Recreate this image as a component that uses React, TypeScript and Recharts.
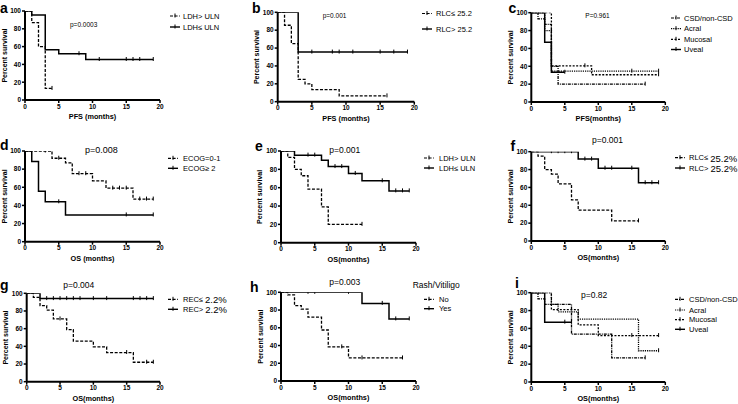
import React from 'react';
import { LineChart, Line, XAxis, YAxis } from 'recharts';

const FONT = '"Liberation Sans", Arial, Helvetica, sans-serif';

const xTicks = [0, 5, 10, 15, 20];
const yTicks = [0, 20, 40, 60, 80, 100];

// ---- data: [time, survival %] steps and censored times ----
// a: PFS by LDH
const aHighSteps = [[0, 100], [1, 87], [2, 60], [3, 13]];
const aHighCens = [4];
const aLowSteps = [[0, 100], [1, 95.5], [3, 56.5], [5, 52], [9, 45.5]];
const aLowCens = [8, 11, 15, 16, 17, 19];
const aNames = ['LDH> ULN', 'LDH\u2264 ULN'];

// b: PFS by RLC
const bLowSteps = [[0, 100], [1, 85.5], [2, 65], [3, 25], [4, 20], [5, 13.5], [9, 6.5]];
const bLowCens = [16];
const bHighSteps = [[0, 100], [3, 55.5]];
const bHighCens = [5, 8, 9, 11, 15, 17, 19];
const bNames = ['RLC\u2264 25.2', 'RLC> 25.2'];

// c: PFS by subtype
const cCsdSteps = [[0, 100], [1, 93], [2, 87], [3, 40], [4, 20]];
const cCsdCens = [17];
const cAcralSteps = [[0, 100], [2, 80], [3, 34.5]];
const cAcralCens = [15, 19];
const cMucSteps = [[0, 100], [3, 40.5], [9, 30.5]];
const cMucCens = [8, 19];
const cUvSteps = [[0, 100], [2, 67], [3, 33.3]];
const cUvCens = [5];
const subtypeNames = ['CSD/non-CSD', 'Acral', 'Mucosal', 'Uveal'];

// d: OS by ECOG
const dLowSteps = [[0, 100], [4, 92], [6, 87], [7, 75], [10, 67], [12, 59], [16, 47]];
const dLowCens = [3, 5, 8, 9, 13, 14, 15, 17, 18, 19];
const dHighSteps = [[0, 100], [1, 88.5], [2, 55.5], [3, 44], [6, 29.5]];
const dHighCens = [5, 15, 19];
const dNames = ['ECOG=0-1', 'ECOG\u2265 2'];

// e: OS by LDH
const eHighSteps = [[0, 100], [1, 93], [2, 80], [3, 73], [4, 58.5], [6, 39], [7, 20]];
const eHighCens = [12];
const eLowSteps = [[0, 100], [2, 95.5], [6, 90], [7, 83], [10, 75.5], [12, 67.5], [16, 56.5]];
const eLowCens = [4, 5, 8, 9, 11, 15, 17, 18, 19];
const eNames = ['LDH> ULN', 'LDH\u2264 ULN'];

// f: OS by RLC
const fLowSteps = [[0, 100], [1, 95], [2, 80], [3, 75], [4, 64], [6, 46], [7, 34.5], [12, 22.5]];
const fLowCens = [16];
const fHighSteps = [[0, 100], [7, 91.7], [10, 81.5], [16, 65.2]];
const fHighCens = [3, 4, 5, 6, 8, 9, 11, 12, 15, 17, 18, 19];
const fNames = ['RLC\u2264 25.2%', 'RLC> 25.2%'];

// g: OS by REC
const gLowSteps = [[0, 100], [1, 95.5], [2, 86], [3, 81], [4, 71], [6, 59], [7, 46], [10, 39.5], [12, 33], [16, 22]];
const gLowCens = [5, 15, 18, 19];
const gHighSteps = [[0, 100], [2, 94]];
const gHighCens = [3, 4, 5, 6, 7, 8, 10, 12, 16, 17, 18, 19];
const gNames = ['REC\u2264 2.2%', 'REC> 2.2%'];

// h: OS by rash/vitiligo
const hNoSteps = [[0, 100], [1, 97], [2, 85], [3, 81], [4, 72], [6, 57.5], [7, 38.5], [10, 26]];
const hNoCens = [9, 12, 18];
const hYesSteps = [[0, 100], [12, 87.5], [16, 70]];
const hYesCens = [4, 5, 10, 15, 17, 19];
const hNames = ['No', 'Yes'];

// i: OS by subtype
const iCsdSteps = [[0, 100], [1, 93], [2, 87], [6, 53.5], [12, 27]];
const iCsdCens = [17];
const iAcralSteps = [[0, 100], [3, 87], [4, 78.5], [7, 70.5], [16, 35]];
const iAcralCens = [19];
const iMucSteps = [[0, 100], [3, 81], [7, 64], [10, 52]];
const iMucCens = [15, 19];
const iUvSteps = [[0, 100], [2, 67]];
const iUvCens = [5, 6];

type Pt = { t: number; s: number; c: number };

function km(steps: number[][], cens: number[]): Pt[] {
  const pts: Pt[] = steps.map(([t, s]) => ({ t, s, c: 0 }));
  cens.forEach((t) => {
    let s = 100;
    steps.forEach(([tt, ss]) => {
      if (tt <= t) s = ss;
    });
    pts.push({ t, s, c: 1 });
  });
  return pts.sort((a, b) => a.t - b.t || a.c - b.c);
}

const DASH = '3 1.6';
const CSD_DASH = '3 1 1 1';
const ACRAL_DASH = '1.2 1';
const MUC_DASH = '2 1.5';

type Series = { data: Pt[]; name: string; dash?: string };

type Panel = {
  id: string;
  x: number;
  y: number;
  h: number;
  L: number;
  R: number;
  T: number;
  B: number;
  xTitle: string;
  p: string;
  px: number;
  py: number;
  pf: number;
  lx: number;
  ly: number;
  ylx: number;
  sx: number;
  tx: number;
  rows: number[];
  legTitle?: string;
  bigNum?: boolean;
  series: Series[];
};

const panels: Panel[] = [
  {
    id: 'a', x: 0, y: 0, h: 135, L: 25, R: 160, T: 11, B: 100,
    xTitle: 'PFS (months)', p: 'p=0.0003', px: 70, py: 24, pf: 6.5,
    lx: 0, ly: 13, ylx: 4.5, sx: 170, tx: 183, rows: [16, 27],
    series: [
      { data: km(aHighSteps, aHighCens), name: aNames[0], dash: DASH },
      { data: km(aLowSteps, aLowCens), name: aNames[1] },
    ],
  },
  {
    id: 'b', x: 246, y: 0, h: 135, L: 277.7, R: 414.3, T: 12.3, B: 101.7,
    xTitle: 'PFS (months)', p: 'p=0.001', px: 322.7, py: 15, pf: 6.5,
    lx: 252, ly: 13, ylx: 256.5, sx: 422, tx: 436, rows: [13.5, 29],
    series: [
      { data: km(bLowSteps, bLowCens), name: bNames[0], dash: DASH },
      { data: km(bHighSteps, bHighCens), name: bNames[1] },
    ],
  },
  {
    id: 'c', x: 492, y: 0, h: 135, L: 531.3, R: 665.3, T: 12.7, B: 102,
    xTitle: 'PFS(months)', p: 'P=0.961', px: 585.3, py: 15, pf: 6.5,
    lx: 508.5, ly: 13, ylx: 510.3, sx: 671, tx: 684, rows: [18, 28.7, 39.3, 49.5],
    series: [
      { data: km(cCsdSteps, cCsdCens), name: subtypeNames[0], dash: CSD_DASH },
      { data: km(cAcralSteps, cAcralCens), name: subtypeNames[1], dash: ACRAL_DASH },
      { data: km(cMucSteps, cMucCens), name: subtypeNames[2], dash: MUC_DASH },
      { data: km(cUvSteps, cUvCens), name: subtypeNames[3] },
    ],
  },
  {
    id: 'd', x: 0, y: 135, h: 135, L: 25, R: 160, T: 151, B: 241.7,
    xTitle: 'OS (months)', p: 'p=0.008', px: 85, py: 150, pf: 9,
    lx: 0, ly: 150, ylx: 4, sx: 168, tx: 183, rows: [158.3, 168.3],
    series: [
      { data: km(dLowSteps, dLowCens), name: dNames[0], dash: DASH },
      { data: km(dHighSteps, dHighCens), name: dNames[1] },
    ],
  },
  {
    id: 'e', x: 246, y: 135, h: 135, L: 281, R: 416, T: 151, B: 242.7,
    xTitle: 'OS(months)', p: 'p=0.001', px: 329.3, py: 150, pf: 8.5,
    lx: 255, ly: 151, ylx: 259.3, sx: 424, tx: 439, rows: [158, 168],
    series: [
      { data: km(eHighSteps, eHighCens), name: eNames[0], dash: DASH },
      { data: km(eLowSteps, eLowCens), name: eNames[1] },
    ],
  },
  {
    id: 'f', x: 492, y: 135, h: 135, L: 531.3, R: 665.3, T: 151.7, B: 241,
    xTitle: 'OS(months)', p: 'p=0.001', px: 592, py: 140, pf: 8.5,
    lx: 510.5, ly: 151, ylx: 510.3, sx: 675, tx: 689, rows: [157.7, 168], bigNum: true,
    series: [
      { data: km(fLowSteps, fLowCens), name: fNames[0], dash: DASH },
      { data: km(fHighSteps, fHighCens), name: fNames[1] },
    ],
  },
  {
    id: 'g', x: 0, y: 270, h: 134, L: 26.7, R: 160, T: 293.3, B: 381.7,
    xTitle: 'OS(months)', p: 'p=0.004', px: 63.3, py: 285, pf: 8.5,
    lx: 0, ly: 289.5, ylx: 5, sx: 168, tx: 183, rows: [299.3, 309.3], bigNum: true,
    series: [
      { data: km(gLowSteps, gLowCens), name: gNames[0], dash: DASH },
      { data: km(gHighSteps, gHighCens), name: gNames[1] },
    ],
  },
  {
    id: 'h', x: 246, y: 270, h: 134, L: 281, R: 416, T: 292.3, B: 381,
    xTitle: 'OS(months)', p: 'p=0.003', px: 329.3, py: 281.7, pf: 8.5,
    lx: 250, ly: 292, ylx: 260, sx: 424, tx: 439, rows: [299.3, 308.7], legTitle: 'Rash/Vitiligo',
    series: [
      { data: km(hNoSteps, hNoCens), name: hNames[0], dash: DASH },
      { data: km(hYesSteps, hYesCens), name: hNames[1] },
    ],
  },
  {
    id: 'i', x: 492, y: 270, h: 134, L: 531.3, R: 665.3, T: 292.7, B: 382,
    xTitle: 'OS(months)', p: 'p=0.82', px: 581, py: 295, pf: 8.5,
    lx: 515, ly: 287.5, ylx: 510.3, sx: 675, tx: 689, rows: [299.3, 310, 319.7, 329.3],
    series: [
      { data: km(iCsdSteps, iCsdCens), name: subtypeNames[0], dash: CSD_DASH },
      { data: km(iAcralSteps, iAcralCens), name: subtypeNames[1], dash: ACRAL_DASH },
      { data: km(iMucSteps, iMucCens), name: subtypeNames[2], dash: MUC_DASH },
      { data: km(iUvSteps, iUvCens), name: subtypeNames[3] },
    ],
  },
];

const XH = 20;
const W = 246;

const censorDot = (props: any) => {
  const { cx, cy, payload, index } = props;
  if (!payload || !payload.c || cx == null || cy == null) return <g key={`n${index}`} />;
  return (
    <line key={`c${index}`} x1={cx} x2={cx} y1={cy - 2.5} y2={cy + 1.5} stroke="#000" strokeWidth={1} />
  );
};

const tickStyle = { fontSize: 6.5, fontWeight: 700, fill: '#000', fontFamily: FONT };

function PanelChart({ p }: { p: Panel }) {
  const margin = {
    top: p.T - p.y,
    right: p.x + W - p.R,
    bottom: p.y + p.h - p.B - XH,
    left: 0,
  };
  return (
    <div style={{ position: 'absolute', left: p.x, top: p.y, width: W, height: p.h }}>
      <LineChart width={W} height={p.h} margin={margin}>
        <XAxis
          type="number"
          dataKey="t"
          domain={[0, 20]}
          ticks={xTicks}
          allowDataOverflow
          height={XH}
          tick={tickStyle}
          tickSize={3}
          tickMargin={1}
          tickLine={{ stroke: '#000', strokeWidth: 1.5 }}
          axisLine={{ stroke: '#000', strokeWidth: 2 }}
          interval={0}
        />
        <YAxis
          type="number"
          domain={[0, 100]}
          ticks={yTicks}
          allowDataOverflow
          width={p.L - p.x}
          tick={tickStyle}
          tickSize={3}
          tickMargin={1}
          tickLine={{ stroke: '#000', strokeWidth: 1.5 }}
          axisLine={{ stroke: '#000', strokeWidth: 2 }}
          interval={0}
        />
        {p.series.map((s, k) => (
          <Line
            key={k}
            data={s.data}
            dataKey="s"
            type="stepAfter"
            stroke="#000"
            strokeWidth={s.dash ? 1.3 : 1.5}
            strokeDasharray={s.dash}
            dot={censorDot}
            activeDot={false}
            isAnimationActive={false}
            name={s.name}
          />
        ))}
      </LineChart>
    </div>
  );
}

function LegendText({ name, x, y, big }: { name: string; x: number; y: number; big?: boolean }) {
  if (big) {
    const i = name.indexOf(' ');
    return (
      <text x={x} y={y} fontSize={7.5} dominantBaseline="central">
        {name.slice(0, i + 1)}
        <tspan fontSize={9.5}>{name.slice(i + 1)}</tspan>
      </text>
    );
  }
  return (
    <text x={x} y={y} fontSize={7.5} dominantBaseline="central">
      {name}
    </text>
  );
}

function Overlay() {
  return (
    <svg
      width={738}
      height={404}
      style={{ position: 'absolute', left: 0, top: 0, pointerEvents: 'none' }}
      fontFamily={FONT}
      fill="#000"
    >
      {panels.map((p) => (
        <g key={p.id}>
          <text x={p.lx} y={p.ly} fontSize={14} fontWeight={700}>
            {p.id}
          </text>
          <text x={p.px} y={p.py} fontSize={p.pf} dominantBaseline="central">
            {p.p}
          </text>
          <text
            transform={`translate(${p.ylx},${(p.T + p.B) / 2}) rotate(-90)`}
            textAnchor="middle"
            dominantBaseline="central"
            fontSize={7}
            fontWeight={700}
          >
            Percent survival
          </text>
          <text
            x={(p.L + p.R) / 2}
            y={p.B + 16.5}
            textAnchor="middle"
            dominantBaseline="central"
            fontSize={7.3}
            fontWeight={700}
          >
            {p.xTitle}
          </text>
          {p.legTitle ? (
            <text x={412.7} y={285} fontSize={8.5} dominantBaseline="central">
              {p.legTitle}
            </text>
          ) : null}
          {p.series.map((s, k) => (
            <g key={k}>
              <line
                x1={p.sx}
                x2={p.sx + 10}
                y1={p.rows[k]}
                y2={p.rows[k]}
                stroke="#000"
                strokeWidth={s.dash ? 1.2 : 1.4}
                strokeDasharray={s.dash}
              />
              <line
                x1={p.sx + 5}
                x2={p.sx + 5}
                y1={p.rows[k] - 2.5}
                y2={p.rows[k] + 1.5}
                stroke="#000"
                strokeWidth={1}
              />
              <LegendText name={s.name} x={p.tx} y={p.rows[k]} big={p.bigNum} />
            </g>
          ))}
        </g>
      ))}
    </svg>
  );
}

export default function App() {
  return (
    <div
      style={{
        position: 'absolute',
        left: 0,
        top: 0,
        width: 738,
        height: 404,
        background: '#fff',
        overflow: 'hidden',
        fontFamily: FONT,
      }}
    >
      {panels.map((p) => (
        <PanelChart key={p.id} p={p} />
      ))}
      <Overlay />
    </div>
  );
}
